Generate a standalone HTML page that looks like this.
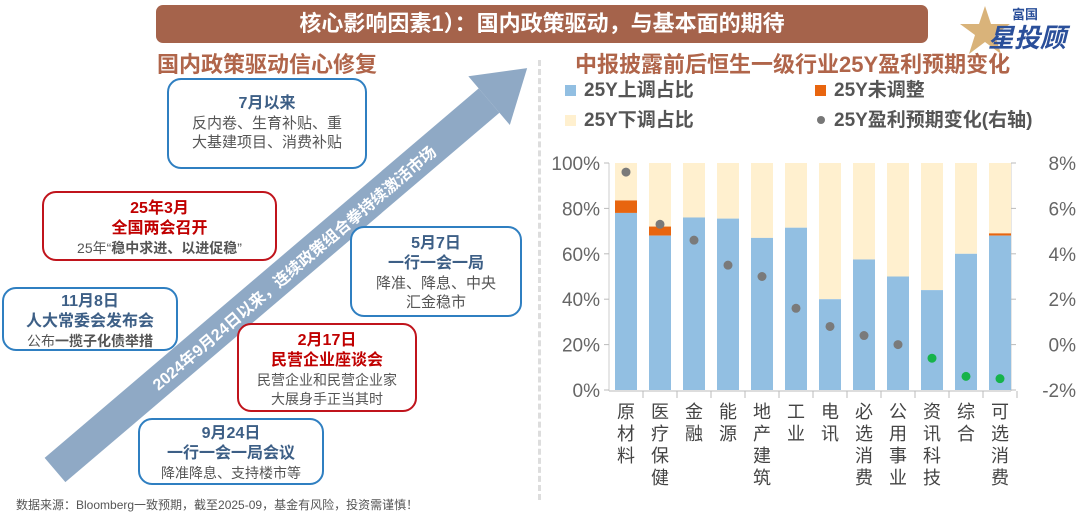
<!DOCTYPE html>
<html><head><meta charset="utf-8"><style>
body{margin:0;width:1080px;height:513px;background:#fff;overflow:hidden;position:relative;font-family:"Liberation Sans","Noto Sans CJK SC",sans-serif}
.abs{position:absolute}
.box{position:absolute;border:2px solid #2f7fc1;border-radius:14px;background:#fff;text-align:center;box-sizing:border-box}
.red{border-color:#c0141c}
.t{font-weight:bold;color:#3d5f86;font-size:16px;line-height:20px}
.tr{font-weight:bold;color:#c00000;font-size:16px;line-height:20px}
.s{color:#555;font-size:14px;line-height:19px}
</style></head><body>
<div class="abs" style="left:156px;top:5px;width:772px;height:38px;background:#a5634b;border-radius:7px;color:#fff;font-weight:bold;font-size:22px;line-height:38px;text-align:center">核心影响因素1）：国内政策驱动，与基本面的期待</div>
<div class="abs" style="left:960px;top:4px;width:110px;height:52px">
<svg width="110" height="52"><polygon points="25,2 31,20 50,20 35,31 41,50 25,38 9,50 15,31 0,20 19,20" fill="#d9b37a"/></svg>
<div class="abs" style="left:52px;top:0;font-size:13px;font-weight:bold;color:#2a4f9a">富国</div>
<div class="abs" style="left:28px;top:14px;font-size:26px;font-weight:bold;color:#2a4f9a;font-style:italic">星投顾</div></div>
<div class="abs" style="left:157px;top:47px;font-size:22px;font-weight:bold;color:#b0654a">国内政策驱动信心修复</div>
<div class="abs" style="left:538px;top:60px;height:440px;border-left:3px dashed #ddd"></div>
<svg class="abs" style="left:0;top:0" width="540" height="513">
<g transform="translate(55,470) rotate(-40.4)">
<rect x="0" y="-16" width="570" height="32" fill="#8fa9c5"/>
<polygon points="570,-32 620,0 570,32" fill="#8fa9c5"/>
<text x="130" y="7" fill="#fff" font-size="16" font-weight="bold" font-family="Liberation Sans,Noto Sans CJK SC,sans-serif">2024年9月24日以来，连续政策组合拳持续激活市场</text></g></svg>
<div class="box" style="left:167px;top:78px;width:200px;height:91px;padding-top:14px"><div class="t">7月以来</div><div class="s" style="font-size:15px">反内卷、生育补贴、重<br>大基建项目、消费补贴</div></div>
<div class="box red" style="left:42px;top:191px;width:235px;height:70px;padding-top:6px"><div class="tr">25年3月</div><div class="tr">全国两会召开</div><div class="s">25年“<b>稳中求进、以进促稳</b>”</div></div>
<div class="box" style="left:350px;top:226px;width:172px;height:91px;padding-top:6px"><div class="t">5月7日</div><div class="t">一行一会一局</div><div class="s" style="font-size:15px">降准、降息、中央<br>汇金稳市</div></div>
<div class="box" style="left:2px;top:287px;width:176px;height:64px;padding-top:3px"><div class="t">11月8日</div><div class="t">人大常委会发布会</div><div class="s">公布<b>一揽子化债举措</b></div></div>
<div class="box red" style="left:237px;top:323px;width:180px;height:89px;padding-top:6px"><div class="tr">2月17日</div><div class="tr">民营企业座谈会</div><div class="s">民营企业和民营企业家<br>大展身手正当其时</div></div>
<div class="box" style="left:138px;top:418px;width:186px;height:67px;padding-top:4px"><div class="t">9月24日</div><div class="t">一行一会一局会议</div><div class="s">降准降息、支持楼市等</div></div>
<div class="abs" style="left:16px;top:496px;font-size:12px;color:#555">数据来源：Bloomberg一致预期，截至2025-09，基金有风险，投资需谨慎！</div>
<div class="abs" style="left:575px;top:47px;font-size:22px;font-weight:bold;color:#b0654a">中报披露前后恒生一级行业25Y盈利预期变化</div>
<div class="abs" style="left:565px;top:76px;font-size:19px;font-weight:bold;color:#555;line-height:30px">
<div class="abs" style="left:0;top:0;white-space:nowrap"><span style="display:inline-block;width:11px;height:11px;background:#92bfe2;margin-right:8px"></span>25Y上调占比</div>
<div class="abs" style="left:250px;top:0;white-space:nowrap"><span style="display:inline-block;width:11px;height:11px;background:#e8650f;margin-right:8px"></span>25Y未调整</div>
<div class="abs" style="left:0;top:30px;white-space:nowrap"><span style="display:inline-block;width:11px;height:11px;background:#fff0cf;margin-right:8px"></span>25Y下调占比</div>
<div class="abs" style="left:250px;top:30px;white-space:nowrap"><span style="display:inline-block;width:8px;height:8px;border-radius:50%;background:#777;margin:0 9px 2px 2px"></span>25Y盈利预期变化(右轴)</div></div>
<svg id="ch" class="abs" style="left:0;top:0" width="1080" height="513"></svg>
<script>
const categories=["原材料","医疗保健","金融","能源","地产建筑","工业","电讯","必选消费","公用事业","资讯科技","综合","可选消费"];
const upShare=[78,68,76,75.5,67,71.5,40,57.5,50,44,60,68];
const flatShare=[5.5,4,0,0,0,0,0,0,0,0,0,1];
const earnChange=[7.6,5.3,4.6,3.5,3.0,1.6,0.8,0.4,0.0,-0.6,-1.4,-1.5];
const leftTicks=[0,20,40,60,80,100];
const rightTicks=[-2,0,2,4,6,8];
const svg=document.getElementById('ch');const NS='http://www.w3.org/2000/svg';
const yL=v=>390-v*2.27, yR=v=>390-(v+2)*22.7, xC=i=>626+i*34;
function mk(t,a,p){const e=document.createElementNS(NS,t);for(const k in a)e.setAttribute(k,a[k]);(p||svg).appendChild(e);return e;}
let ax=mk('line',{x1:609,x2:1011,y1:391,y2:391,stroke:'#bbb'});


mk('line',{x1:609,x2:609,y1:163,y2:391,stroke:'#ccc'});mk('line',{x1:1011,x2:1011,y1:163,y2:391,stroke:'#ccc'});
leftTicks.forEach(v=>{mk('line',{x1:604,x2:609,y1:yL(v),y2:yL(v),stroke:'#bbb'});
const t=mk('text',{x:600,y:yL(v)+7,'text-anchor':'end','font-size':19,fill:'#666'});t.textContent=v+'%';

});
rightTicks.forEach(v=>{mk('line',{x1:1011,x2:1016,y1:yR(v),y2:yR(v),stroke:'#bbb'});
const t=mk('text',{x:1076,y:yR(v)+7,'text-anchor':'end','font-size':19,fill:'#666'});t.textContent=v+'%';

});
categories.forEach((c,i)=>{const x=xC(i);
mk('line',{x1:x+17,x2:x+17,y1:391,y2:398,stroke:'#bbb'});
let r=mk('rect',{x:x-11,y:yL(100),width:22,height:yL(upShare[i]+flatShare[i])-yL(100),fill:'#fff0cf'});


r=mk('rect',{x:x-11,y:yL(upShare[i]+flatShare[i]),width:22,height:yL(upShare[i])-yL(upShare[i]+flatShare[i]),fill:'#e8650f'});


r=mk('rect',{x:x-11,y:yL(upShare[i]),width:22,height:390-yL(upShare[i]),fill:'#92bfe2'});


const d=mk('circle',{cx:x,cy:yR(earnChange[i]),r:4.5,fill:earnChange[i]<0?'#16b34a':'#7a7a7a'});


[...c].forEach((ch,j)=>{const t=mk('text',{x:x,y:418+j*22,'text-anchor':'middle','font-size':18,fill:'#444'});t.textContent=ch;

});});
</script>
</body></html>
